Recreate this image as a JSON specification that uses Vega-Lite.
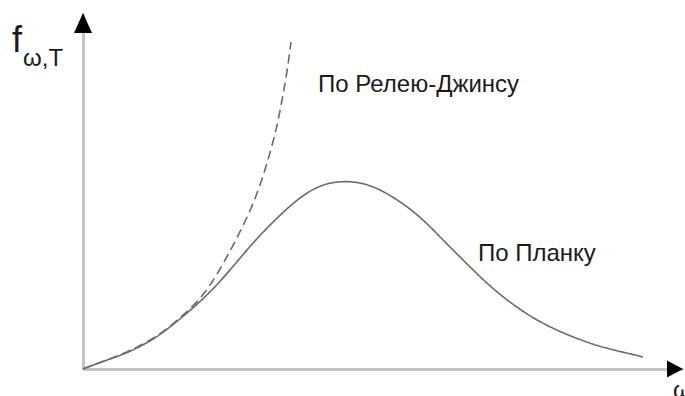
{
  "$schema": "https://vega.github.io/schema/vega-lite/v6.json",
  "autosize": {"type": "none"},
  "padding": {"left": 83, "top": 13, "right": 2, "bottom": 27},
  "width": 600,
  "height": 356,
  "background": "white",
  "config": {"view": {"stroke": null}},
  "datasets": {
    "curves": [
      {"series": "Planck", "w": 0, "f": 0},
      {"series": "Planck", "w": 0.167, "f": 0.112},
      {"series": "Planck", "w": 0.45, "f": 0.281},
      {"series": "Planck", "w": 0.733, "f": 0.449},
      {"series": "Planck", "w": 1.033, "f": 0.702},
      {"series": "Planck", "w": 1.283, "f": 0.955},
      {"series": "Planck", "w": 1.617, "f": 1.404},
      {"series": "Planck", "w": 1.95, "f": 1.882},
      {"series": "Planck", "w": 2.283, "f": 2.444},
      {"series": "Planck", "w": 2.617, "f": 3.118},
      {"series": "Planck", "w": 2.95, "f": 3.764},
      {"series": "Planck", "w": 3.283, "f": 4.326},
      {"series": "Planck", "w": 3.617, "f": 4.831},
      {"series": "Planck", "w": 3.95, "f": 5.169},
      {"series": "Planck", "w": 4.283, "f": 5.281},
      {"series": "Planck", "w": 4.617, "f": 5.253},
      {"series": "Planck", "w": 5.0, "f": 5.028},
      {"series": "Planck", "w": 5.567, "f": 4.382},
      {"series": "Planck", "w": 6.0, "f": 3.624},
      {"series": "Planck", "w": 6.117, "f": 3.427},
      {"series": "Planck", "w": 6.617, "f": 2.584},
      {"series": "Planck", "w": 6.95, "f": 2.079},
      {"series": "Planck", "w": 7.5, "f": 1.404},
      {"series": "Planck", "w": 8.067, "f": 0.955},
      {"series": "Planck", "w": 8.617, "f": 0.618},
      {"series": "Planck", "w": 9.067, "f": 0.449},
      {"series": "Planck", "w": 9.333, "f": 0.337},
      {"series": "RJ", "w": 0, "f": 0},
      {"series": "RJ", "w": 0.167, "f": 0.112},
      {"series": "RJ", "w": 0.733, "f": 0.449},
      {"series": "RJ", "w": 1.283, "f": 0.955},
      {"series": "RJ", "w": 1.617, "f": 1.440},
      {"series": "RJ", "w": 1.95, "f": 1.938},
      {"series": "RJ", "w": 2.2, "f": 2.556},
      {"series": "RJ", "w": 2.417, "f": 3.202},
      {"series": "RJ", "w": 2.617, "f": 3.848},
      {"series": "RJ", "w": 2.817, "f": 4.551},
      {"series": "RJ", "w": 2.983, "f": 5.309},
      {"series": "RJ", "w": 3.117, "f": 6.067},
      {"series": "RJ", "w": 3.233, "f": 6.798},
      {"series": "RJ", "w": 3.317, "f": 7.556},
      {"series": "RJ", "w": 3.4, "f": 8.315},
      {"series": "RJ", "w": 3.467, "f": 9.185}
    ],
    "labels": [
      {"w": 3.917, "f": 7.781, "label": "По Релею-Джинсу"},
      {"w": 6.583, "f": 3.034, "label": "По Планку"}
    ]
  },
  "encoding": {
    "x": {"field": "w", "type": "quantitative", "scale": {"domain": [0, 10], "nice": false, "zero": false},
          "axis": {"domain": true, "domainColor": "#c4c4c4", "domainWidth": 3, "ticks": false, "labels": false, "grid": false, "title": null}},
    "y": {"field": "f", "type": "quantitative", "scale": {"domain": [0, 10], "nice": false, "zero": false},
          "axis": {"domain": true, "domainColor": "#c4c4c4", "domainWidth": 3, "ticks": false, "labels": false, "grid": false, "title": null}}
  },
  "layer": [
    {
      "data": {"name": "curves"},
      "mark": {"type": "line", "interpolate": "basis", "stroke": "#6a6a6a", "strokeWidth": 1.6, "clip": false},
      "encoding": {
        "detail": {"field": "series", "type": "nominal"},
        "strokeDash": {"field": "series", "type": "nominal", "scale": {"domain": ["Planck", "RJ"], "range": [[1, 0], [9, 5]]}, "legend": null}
      }
    },
    {
      "data": {"values": [{"w": 0, "f": 10}]},
      "mark": {"type": "point", "shape": "M0,0L0.9,2L-0.9,2Z", "size": 400, "filled": true, "fill": "#000000", "stroke": null, "opacity": 1}
    },
    {
      "data": {"values": [{"w": 10, "f": 0}]},
      "mark": {"type": "point", "shape": "M0,0L-1.6,-0.85L-1.6,0.85Z", "size": 400, "filled": true, "fill": "#000000", "stroke": null, "opacity": 1}
    },
    {
      "data": {"name": "labels"},
      "mark": {"type": "text", "align": "left", "baseline": "alphabetic", "font": "Liberation Sans", "fontSize": 24, "fill": "#1a1a1a"},
      "encoding": {"text": {"field": "label", "type": "nominal"}}
    },
    {
      "data": {"values": [{"w": -1.183, "f": 8.904, "label": "f"}]},
      "mark": {"type": "text", "align": "left", "baseline": "alphabetic", "font": "Liberation Sans", "fontSize": 36, "fill": "#1a1a1a"},
      "encoding": {"text": {"field": "label", "type": "nominal"}}
    },
    {
      "data": {"values": [{"w": -1.0, "f": 8.511, "label": "ω,T"}]},
      "mark": {"type": "text", "align": "left", "baseline": "alphabetic", "font": "Liberation Sans", "fontSize": 24, "fill": "#1a1a1a"},
      "encoding": {"text": {"field": "label", "type": "nominal"}}
    },
    {
      "data": {"values": [{"w": 9.833, "f": -0.815, "label": "ω"}]},
      "mark": {"type": "text", "align": "left", "baseline": "alphabetic", "font": "Liberation Sans", "fontSize": 24, "fill": "#1a1a1a"},
      "encoding": {"text": {"field": "label", "type": "nominal"}}
    }
  ]
}
